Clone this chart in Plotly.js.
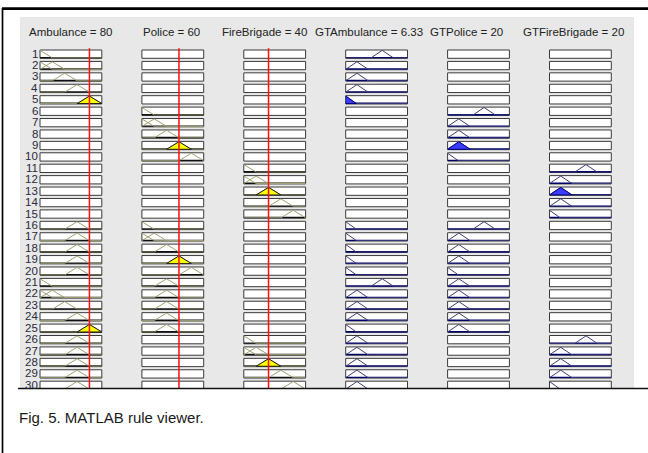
<!DOCTYPE html>
<html><head><meta charset="utf-8">
<script src="https://cdn.plot.ly/plotly-3.0.1.min.js"></script>
<style>html,body{margin:0;padding:0;background:#fff}#chart{width:648px;height:453px}</style>
</head><body><div id="chart"></div>
<script>
const W = 648, H = 453;

// ---- data ----
const inputNames = ['Ambulance', 'Police', 'FireBrigade'];
const inputValues = [80, 60, 40];
const outputNames = ['GTAmbulance', 'GTPolice', 'GTFireBrigade'];
const outputValues = ['6.33', '20', '20'];
const inputRange = [0, 100];
const outputRange = [0, 110];
const inputMFs = {VL: [-20, 0, 20], L: [0, 20, 40], M: [20, 40, 60], MH: [40, 60, 80], H: [60, 80, 100]};
const outputMFs = {A: [45, 65, 85], B: [0, 20, 40], C: [-19, 0, 19]};
const ruleLabels = ['1','2','3','4','5','6','7','8','9','10','11','12','13','14','15','16','17','18','19','20','21','22','23','24','25','26','27','28','29','30'];
const ruleAmbulance = ['VL','VL|L','M','MH','H','','','','','','','','','','','MH','MH','MH','MH','MH','VL','VL|L','M','MH','H','MH','MH','MH','MH','MH'];
const rulePolice = ['','','','','','VL','VL|L','M','MH','H','','','','','','VL','VL|L','M','MH','H','M','M','M','M','M','','','','',''];
const ruleFireBrigade = ['','','','','','','','','','','VL','VL|L','M','MH','H','','','','','','','','','','','VL','VL|L','M','MH','H'];
const ruleGTAmbulance = ['A','B','B','B','C','','','','','','','','','','','C','C','C','C','C','A','B','B','B','C','B','B','B','B','B'];
const ruleGTPolice = ['','','','','','A','B','B','B','C','','','','','','A','B','B','B','C','B','B','B','B','B','','','','',''];
const ruleGTFireBrigade = ['','','','','','','','','','','A','B','B','B','C','','','','','','','','','','','A','B','B','B','C'];
const caption = 'Fig. 5. MATLAB rule viewer.';

// ---- geometry / style ----
const colLeft = c => 40 + c * 101.9, colW = 61.8;
const rowTop = r => 50 + r * 11.42, rowH = 8.3;
const titleCenters = [70, 171, 264, 369, 466, 573];
const FONT = 'Arial, "Liberation Sans", sans-serif';

const inputRules = [ruleAmbulance, rulePolice, ruleFireBrigade];
const outputRules = [ruleGTAmbulance, ruleGTPolice, ruleGTFireBrigade];
const nRows = ruleLabels.length;

function mfVal(p, x) {
  const [a, b, c] = p;
  if (x < a || x > c) return 0;
  if (x <= b) return a === b ? 1 : (x - a) / (b - a);
  return c === b ? 1 : (c - x) / (c - b);
}
function mfLine(p, rng) {
  const xs = [rng[0], p[0], p[1], p[2], rng[1]].filter(v => v >= rng[0] && v <= rng[1]);
  const ux = [...new Set(xs)].sort((u, v) => u - v);
  return {x: ux, y: ux.map(v => mfVal(p, v))};
}
function mfFill(p, deg, rng) {
  const [a, b, c] = p;
  const clip = v => Math.min(rng[1], Math.max(rng[0], v));
  const xs = [a, a + deg * (b - a), c - deg * (c - b), c].map(clip);
  const ys = xs.map(v => Math.min(mfVal(p, v), deg));
  return {x: [xs[0], ...xs, xs[3], xs[0]], y: [0, ...ys, 0, 0]};
}
// columns use x2..x7, rows use y2..y31 (x / y are unused placeholders)
const xId = c => 'x' + (c + 2);
const yId = r => 'y' + (r + 2);

const traces = [];
const shapes = [];
const annotations = [];

// gray panel
shapes.push({type: 'rect', xref: 'paper', yref: 'paper', x0: 20 / W, x1: 634 / W, y0: 1 - 388 / H, y1: 1 - 17 / H,
  fillcolor: '#e8e8e8', line: {width: 0}, layer: 'below'});

const layout = {
  width: W, height: H, margin: {l: 0, r: 0, t: 0, b: 0},
  paper_bgcolor: '#ffffff', plot_bgcolor: 'rgba(0,0,0,0)', showlegend: false,
  shapes: shapes, annotations: annotations,
  xaxis: {domain: [0, 0.001], visible: false, fixedrange: true},
  yaxis: {domain: [0, 0.001], visible: false, fixedrange: true}
};
for (let c = 0; c < 6; c++) {
  layout['xaxis' + (c + 2)] = {
    domain: [colLeft(c) / W, (colLeft(c) + colW) / W],
    range: (c < 3 ? inputRange : outputRange).slice(), visible: false, fixedrange: true, anchor: 'y2'
  };
}
for (let r = 0; r < nRows; r++) {
  layout['yaxis' + (r + 2)] = {
    domain: [1 - (rowTop(r) + rowH) / H, 1 - rowTop(r) / H],
    range: [-0.05, 1.05], visible: false, fixedrange: true, anchor: 'x2'
  };
}

// firing strength per rule
const firing = [];
for (let r = 0; r < nRows; r++) {
  const vals = [];
  inputRules.forEach((rule, c) => {
    const labs = rule[r].split('|').filter(s => s);
    if (labs.length) vals.push(Math.max(...labs.map(l => mfVal(inputMFs[l], inputValues[c]))));
  });
  firing.push(vals.length ? Math.min(...vals) : 0);
}

for (let c = 0; c < 6; c++) {
  const isIn = c < 3;
  const rules = isIn ? inputRules[c] : outputRules[c - 3];
  const mfs = isIn ? inputMFs : outputMFs;
  const rng = (isIn ? inputRange : outputRange).slice();
  const xa = xId(c);
  const slope = isIn ? '#a2a274' : '#3e3e7a';
  const base = isIn ? '#111111' : '#00006a';
  const fillC = isIn ? '#ffff00' : '#3c3cff';
  const edge = isIn ? '#1a1a1a' : '#00007a';
  for (let r = 0; r < nRows; r++) {
    const ya = yId(r);
    shapes.push({type: 'rect', xref: xa + ' domain', yref: ya + ' domain', x0: 0, x1: 1, y0: 0, y1: 1,
      fillcolor: '#ffffff', line: {color: '#3a3a3a', width: 1}, layer: 'below'});
    const labs = rules[r].split('|').filter(s => s);
    if (!labs.length) continue;
    traces.push({type: 'scatter', mode: 'lines', xaxis: xa, yaxis: ya, x: rng.slice(), y: [0, 0],
      line: {color: base, width: 2}, hoverinfo: 'skip'});
    labs.forEach(l => {
      const ln = mfLine(mfs[l], rng);
      traces.push({type: 'scatter', mode: 'lines', xaxis: xa, yaxis: ya, x: ln.x, y: ln.y,
        line: {color: slope, width: 1}, hoverinfo: 'skip'});
      const deg = isIn ? mfVal(mfs[l], inputValues[c]) : firing[r];
      if (deg > 0) {
        const f = mfFill(mfs[l], deg, rng);
        traces.push({type: 'scatter', mode: 'lines', xaxis: xa, yaxis: ya, x: f.x, y: f.y,
          fill: 'toself', fillcolor: fillC, line: {color: edge, width: 1}, hoverinfo: 'skip'});
      }
    });
  }
}
// red input value markers (data x on each input column's axis)
for (let c = 0; c < 3; c++) {
  shapes.push({type: 'line', xref: xId(c), yref: 'paper', x0: inputValues[c], x1: inputValues[c],
    y0: 1 - 388 / H, y1: 1 - 48.3 / H, line: {color: '#ff1010', width: 1.5}, layer: 'above'});
}

// cut-off cover, frame lines
shapes.push({type: 'rect', xref: 'paper', yref: 'paper', x0: 0, x1: 1, y0: 1 - 396 / H, y1: 1 - 389 / H,
  fillcolor: '#ffffff', line: {width: 0}, layer: 'above'});
shapes.push({type: 'line', xref: 'paper', yref: 'paper', x0: 18 / W, x1: 1, y0: 1 - 388.5 / H, y1: 1 - 388.5 / H,
  line: {color: '#111', width: 1.5}, layer: 'above'});
shapes.push({type: 'line', xref: 'paper', yref: 'paper', x0: 2 / W, x1: 1, y0: 1 - 8.6 / H, y1: 1 - 8.6 / H,
  line: {color: '#000', width: 2.6}, layer: 'above'});
shapes.push({type: 'line', xref: 'paper', yref: 'paper', x0: 2.5 / W, x1: 2.5 / W, y0: 0, y1: 1 - 8 / H,
  line: {color: '#000', width: 1.7}, layer: 'above'});

// column titles
const titles = inputNames.map((n, i) => n + ' = ' + inputValues[i]).concat(outputNames.map((n, i) => n + ' = ' + outputValues[i]));
titles.forEach((t, i) => annotations.push({xref: 'paper', yref: 'paper', x: titleCenters[i] / W, y: 1 - 32 / H,
  text: t, showarrow: false, xanchor: 'center', yanchor: 'middle', font: {family: FONT, size: 11.5, color: '#222'}}));
// rule numbers
ruleLabels.forEach((t, r) => annotations.push({xref: 'paper', yref: 'paper', x: 39 / W, y: 1 - (rowTop(r) + rowH / 2 - 0.5) / H,
  text: t, showarrow: false, xanchor: 'right', yanchor: 'middle', borderpad: 0, font: {family: FONT, size: 11.5, color: '#2a2a3a'}}));
// caption
annotations.push({xref: 'paper', yref: 'paper', x: 17 / W, y: 1 - 417 / H, text: caption, showarrow: false,
  xanchor: 'left', yanchor: 'middle', font: {family: FONT, size: 15, color: '#1a1a1a'}});

Plotly.newPlot('chart', traces, layout, {staticPlot: true, displayModeBar: false});
</script></body></html>
